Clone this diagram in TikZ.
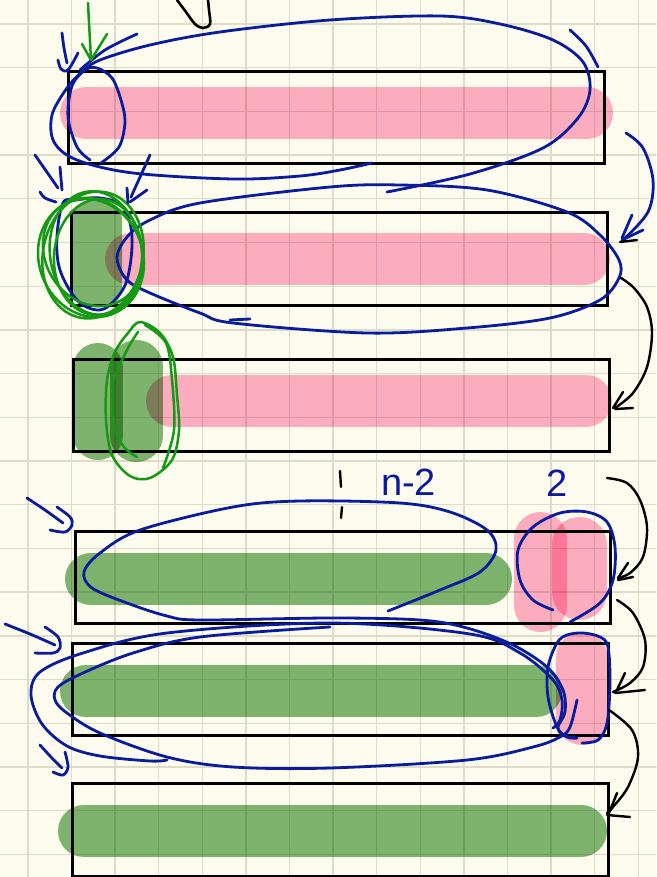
\documentclass[tikz,border=0pt]{standalone}
\usepackage{fontspec}
\setmainfont{Liberation Sans}
\begin{document}
\begin{tikzpicture}[x=1pt,y=-1pt,line join=round,line cap=round]
\definecolor{bg}{HTML}{FCFBEE}
\definecolor{gridc}{HTML}{DEDCC8}
\definecolor{pinkc}{HTML}{FFAFCD}
\definecolor{greenc}{HTML}{80B676}
\definecolor{navy}{HTML}{0A1C9C}
\definecolor{gstroke}{HTML}{169A16}
\tikzset{
 boxs/.style={draw=black,line width=3pt,line cap=butt,line join=miter},
 pinkbar/.style={draw=pinkc,line width=52pt,line cap=round},
 greenbar/.style={draw=greenc,line width=52pt,line cap=round},
 pen/.style={draw=navy,line width=2.8pt},
 gpen/.style={draw=gstroke,line width=2.5pt},
 kpen/.style={draw=black,line width=2.4pt},
 hand/.style={smooth,tension=0.55},
}
\fill[bg] (0,0) rectangle (656,877);
\useasboundingbox (0,0) rectangle (656,877);
% grid
\foreach \i in {0,...,14} \draw[gridc,line width=1.4pt] ({27.8+43.6*\i},0) -- ++(0,877);
\foreach \j in {0,...,19} \draw[gridc,line width=1.4pt] (0,{24+43.7*\j}) -- ++(656,0);
% highlighter fills
\begin{scope}[blend mode=multiply]
 % row 1
 \draw[pinkbar] (86,113) -- (587,113);
 % row 2
 \draw[pinkbar] (131,259) -- (584,259);
 \fill[greenc,rounded corners=20pt] (72,200) rectangle (122,307);
 % row 3
 \draw[pinkbar] (172,401) -- (586,401);
 \draw[greenbar,line width=50pt] (98,368) -- (98,435);
 \draw[greenbar,line width=53pt] (136.5,366.5) -- (136.5,435.5);
 % row 4
 \draw[greenbar] (91,579) -- (486,579);
 \draw[pinkbar,line width=53pt] (540.5,538.5) -- (540.5,605.5);
 \draw[pinkbar,line width=55pt] (579.5,544.5) -- (579.5,592.5);
 % row 5
 \draw[greenbar] (86,691) -- (536,691);
 \draw[pinkbar] (582,658) -- (582,719);
 % row 6
 \draw[greenbar] (84,831) -- (581,831);
\end{scope}
% boxes
\draw[boxs] (68,72) rectangle (604,164);
\draw[boxs] (71,213) rectangle (607,305);
\draw[boxs] (73,359) rectangle (609,451);
\draw[boxs] (75,531) rectangle (610,623);
\draw[boxs] (72,643) rectangle (608,735);
\draw[boxs] (72,783) rectangle (608,876);
% top black scribble
\draw[kpen,line width=2.6pt] plot[hand] coordinates {(177,0)(186,12)(195,24)(203,28)(210,24)(209,10)(208,0)};
% ---------- row 1 blue ----------
\draw[pen] plot[hand] coordinates {(387,192)(470,174)(543,148)(578,118)(590,90)(583,62)(553,40)(500,24)(440,16)(330,20)(220,32)(150,45)(100,60)(82,72)(67,88)(52,115)(54,142)(77,160)(133,173)(233,179)(300,176)(340,170)(372,163)};
\draw[pen] plot[hand] coordinates {(90,160)(77,147)(68,117)(72,86)(85,70)(97,68)(112,78)(121,100)(125,122)(119,147)(101,163)};
\draw[pen] plot[hand] coordinates {(570,30)(586,46)(598,67)};
\draw[pen] plot[hand] coordinates {(62,33)(64,48)(67,63)};
\draw[pen] plot[hand] coordinates {(58,60)(61,69)(68,70)(78,53)};
\draw[pen] plot[hand] coordinates {(137,34)(105,50)(80,70)};
\draw[gpen] (88,3) -- (91,60);
\draw[gpen] (82,44) -- (91,60) -- (107,34);
% arrow row1 -> row2 (blue)
\draw[pen] plot[hand] coordinates {(626,133)(643,148)(653,180)(648,212)(623,240)};
\draw[pen] (632,215) -- (622,238);
\draw[pen] (643,230) -- (622,240);
\draw[kpen] (637,240) -- (620,242);
% ---------- row 2 ----------
\draw[pen] plot[smooth cycle,tension=0.55] coordinates {(330,187)(400,185)(487,190)(567,212)(600,235)(619,260)(619,278)(600,300)(550,318)(467,328)(367,333)(233,323)(200,313)(150,293)(127,280)(117,258)(127,237)(150,220)(200,203)};
\draw[pen] (230,320) -- (250,319);
\draw[pen] plot[smooth cycle,tension=0.6] coordinates {(63,203)(57,237)(60,270)(77,300)(97,310)(112,303)(127,280)(132,237)(123,207)(100,198)(76,200)};
\foreach \a/\rx/\ry/\dx/\dy in {-12/50/64/0/0, 8/46/62/3/-2, 20/52/60/-2/3, -4/44/58/5/2, 30/48/56/0/-3}
  \draw[gpen] ({93+\dx},{255+\dy}) ellipse [x radius=\rx, y radius=\ry, rotate=\a];
\draw[pen] (35,155) -- (58,188);
\draw[pen] (60,167) -- (62,190);
\draw[pen] plot[hand] coordinates {(40,192)(45,198)(56,202)};
\draw[pen] (150,155) -- (131,197);
\draw[pen] (127,188) -- (128,203);
\draw[pen] (147,190) -- (130,202);
% arrow row2 -> row3
\draw[kpen] plot[hand] coordinates {(621,278)(634,288)(647,307)(652,333)(647,367)(633,393)(615,408)};
\draw[kpen] (623,392) -- (613,408);
\draw[kpen] (633,408) -- (615,409);
% ---------- row 3 ----------
\draw[gpen] plot[hand] coordinates {(138,332)(127,350)(113,383)(114,425)(124,447)(137,457)};
\draw[gpen] plot[smooth cycle,tension=0.55] coordinates {(140,322)(160,333)(173,357)(177,395)(179,430)(172,460)(150,478)(130,476)(112,455)(106,420)(107,380)(115,352)(128,333)};
\draw[gpen] plot[hand] coordinates {(145,325)(166,343)(172,380)(174,430)(163,468)};
% dots and labels
\draw[kpen,line width=2.4pt] (340,471) -- (341,487);
\draw[kpen,line width=2.4pt] (342,507) -- (341,518);
\node[text=navy,font=\fontsize{38}{38}\selectfont,anchor=base west,inner sep=0pt] (lbl1) at (381,495) {n-2};
\node[text=navy,font=\fontsize{38}{38}\selectfont,anchor=base west,inner sep=0pt] (lbl2) at (546,496) {2};
% arrow row3 -> row4
\draw[kpen] plot[hand] coordinates {(607,478)(627,483)(640,500)(647,527)(643,557)(630,573)(618,578)};
\draw[kpen] (628,563) -- (618,578);
\draw[kpen] (633,577) -- (618,580);
% ---------- row 4 blue ----------
\draw[pen] plot[hand] coordinates {(27,498)(45,510)(63,523)};
\draw[pen] plot[hand] coordinates {(57,507)(70,517)(72,525)(65,532)(50,530)};
\draw[pen] plot[hand] coordinates {(388,611)(440,590)(480,572)(496,550)(487,530)(450,512)(400,503)(300,501)(233,507)(140,530)(100,553)(84,572)(92,588)(127,603)(167,616)(200,620)(330,618)(420,620)(467,628)(513,645)(547,667)(563,690)(565,712)(558,727)(563,735)(577,738)};
\draw[pen] plot[hand] coordinates {(553,610)(533,600)(520,580)(518,550)(533,527)(560,513)(587,512)(607,522)(615,547)(613,580)(600,603)(570,622)};
% arrow row4 -> row5
\draw[kpen] plot[hand] coordinates {(617,600)(633,613)(645,640)(643,667)(630,683)(613,692)};
\draw[kpen] (625,673) -- (617,690);
\draw[kpen] (645,690) -- (615,693);
% ---------- row 5 blue ----------
\draw[pen] plot[hand] coordinates {(167,760)(150,761)(100,756)(67,746)(42,724)(31,695)(40,672)(83,653)(167,633)(330,623)(470,634)(520,653)(553,680)(562,700)(560,720)(553,728)};
\draw[pen] plot[hand] coordinates {(330,627)(200,637)(133,653)(83,673)(58,687)(55,700)(67,713)(100,733)(167,757)(233,767)(330,768)(467,760)(533,747)(560,737)(570,727)(577,700)};
\draw[pen] plot[hand] coordinates {(577,738)(567,737)(557,727)(548,697)(548,667)(557,643)(567,635)(583,633)(600,637)(608,647)(610,683)(607,723)(598,740)(582,743)};
\draw[pen] plot[hand] coordinates {(5,624)(30,634)(55,645)};
\draw[pen] plot[hand] coordinates {(45,627)(58,637)(60,648)(53,653)(35,653)};
\draw[pen] plot[hand] coordinates {(40,745)(51,757)(62,768)};
\draw[pen] plot[hand] coordinates {(65,752)(68,767)(63,775)(53,772)};
% arrow row5 -> row6
\draw[kpen] plot[hand] coordinates {(609,710)(632,730)(638,757)(628,787)(613,807)(607,813)};
\draw[kpen] (617,793) -- (609,813);
\draw[kpen] (630,817) -- (607,815);
\end{tikzpicture}
\end{document}
